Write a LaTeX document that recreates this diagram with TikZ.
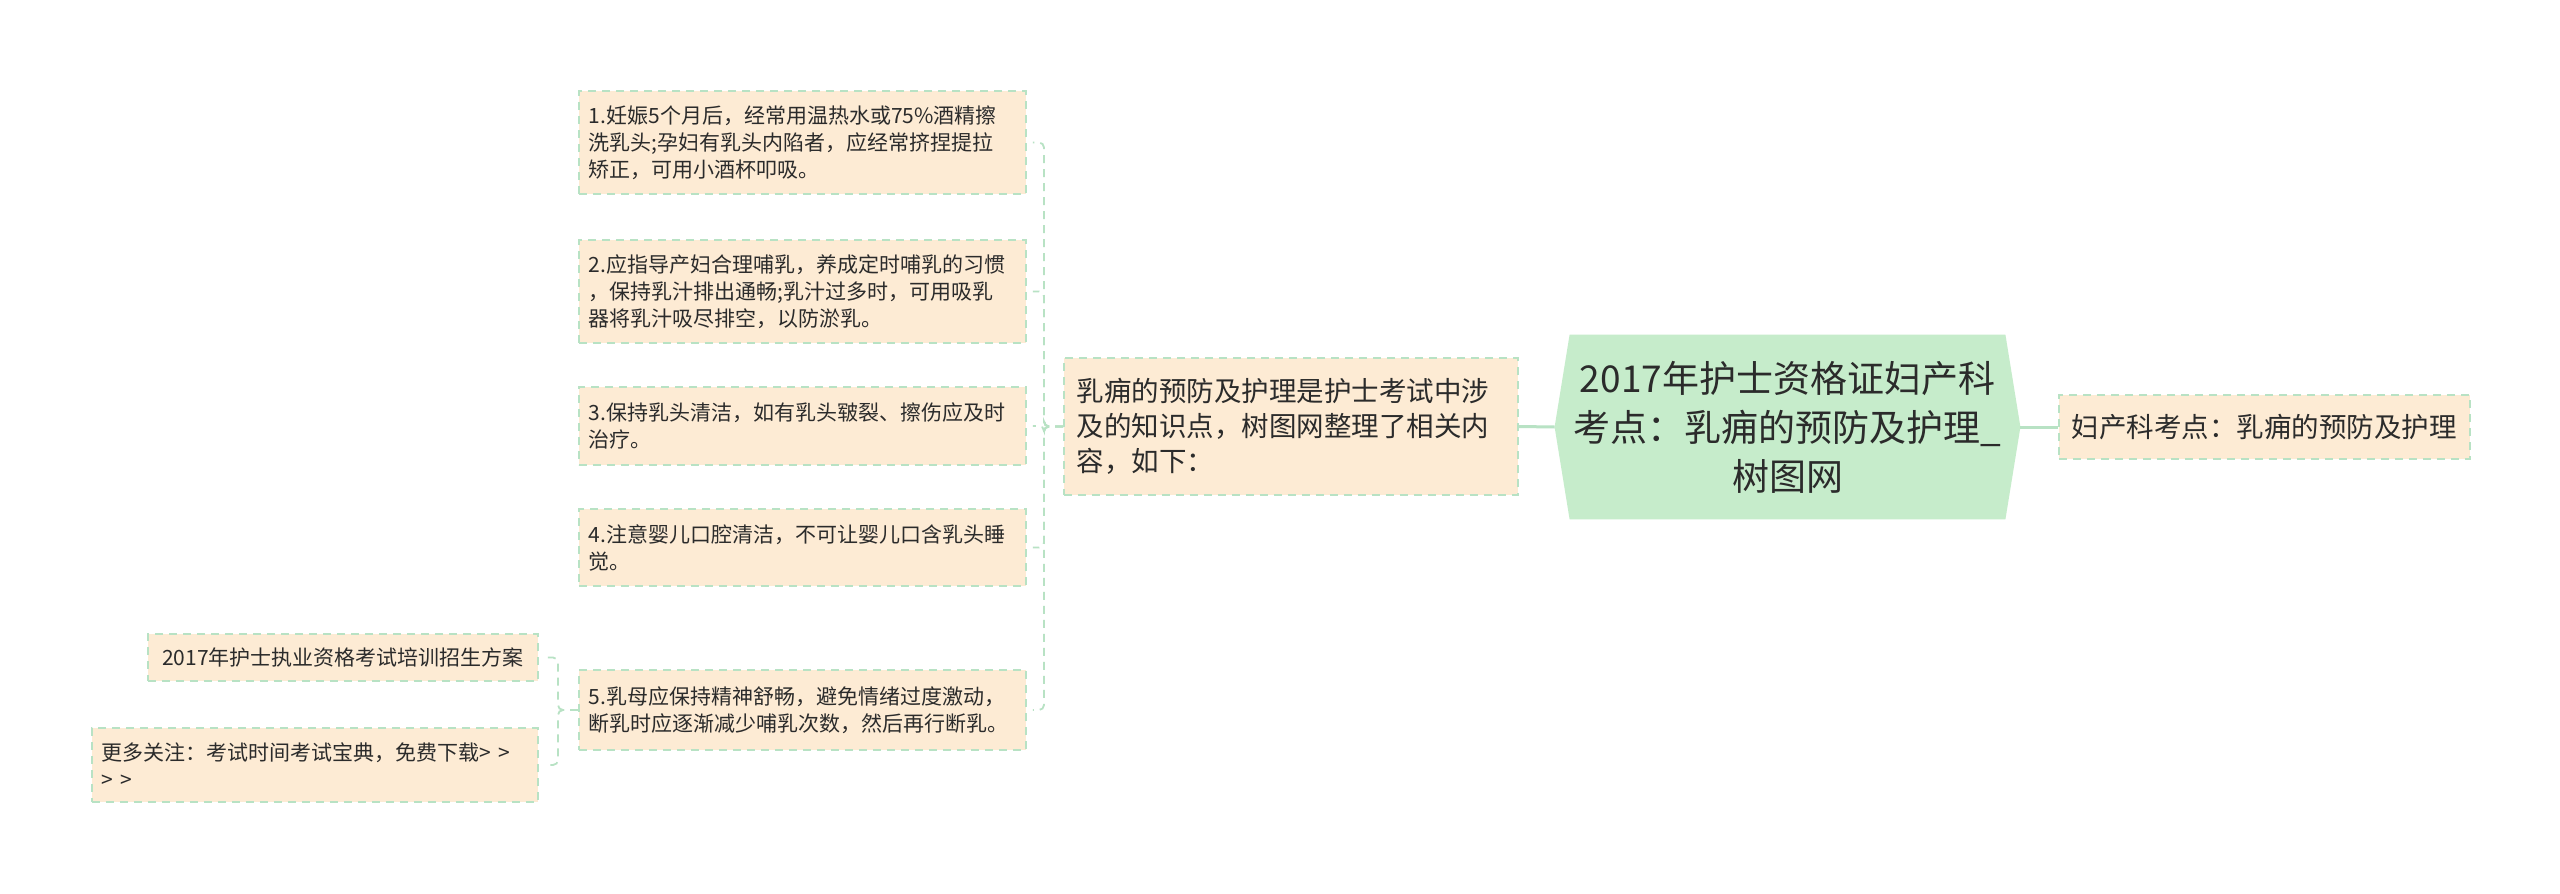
\documentclass[tikz,border=0pt]{standalone}
\usepackage{fontspec}
\usepackage{tikz}
\usetikzlibrary{backgrounds}
\newfontfamily\cjk{Noto Sans CJK SC}
\newcommand{\xf}{578}
\newcommand{\lf}{213.5pt}
\definecolor{vertlien}{RGB}{184,226,196}
\definecolor{pechefond}{RGB}{253,235,212}
\definecolor{vertcentre}{RGB}{198,236,203}
\definecolor{textegris}{RGB}{43,43,43}
\tikzstyle{bordure}=[draw=vertlien,line width=0.9pt,dash pattern=on 4pt off 3pt]
\tikzstyle{feuille}=[bordure,fill=pechefond,anchor=west,align=left,inner xsep=5pt,inner ysep=0pt,text=textegris,font=\cjk\fontsize{10.5pt}{13.5pt}\selectfont]
\tikzstyle{branche}=[feuille,inner xsep=6.5pt,font=\cjk\fontsize{13.75pt}{17.5pt}\selectfont]
\tikzstyle{centre}=[align=center,inner sep=0,minimum width=217.5pt,minimum height=92pt,text=textegris,font=\cjk\fontsize{18.5pt}{24.5pt}\selectfont]
\tikzstyle{lien}=[bordure,rounded corners=2.5pt,shorten >=3pt]
\tikzstyle{tronc}=[draw=vertlien,line width=1.5pt]

\begin{document}
\begin{tikzpicture}[x=0.5pt,y=-0.5pt]
\path[use as bounding box] (0,0) rectangle (2560,894);

%centre
\node[centre] (ctr) at (1787.5,427) {2017年护士资格证妇产科\\考点：乳痈的预防及护理\_\\树图网};
\coordinate (ctrW) at ([xshift=-7.5pt]ctr.west);
\coordinate (ctrE) at ([xshift=7.5pt]ctr.east);
\begin{pgfonlayer}{background}
\fill[white] (0,0) rectangle (2560,894);
\fill[vertcentre] (ctr.north west) -- (ctr.north east) -- (ctrE) -- (ctr.south east) -- (ctr.south west) -- (ctrW) -- cycle;
\end{pgfonlayer}

\node[branche,text width=214pt,minimum height=68.5pt] (mid) at (1063,426.5) {乳痈的预防及护理是护士考试中涉\\及的知识点，树图网整理了相关内\\容，如下：};
\node[branche,align=center,inner xsep=5.5pt,text width=194.5pt,minimum height=32pt] (droite) at (2058,427) {妇产科考点：乳痈的预防及护理};

%feuilles
\node[feuille,text width=\lf,minimum height=51.5pt] (f1) at (\xf,142.5) {1.妊娠5个月后，经常用温热水或75\%酒精擦\\洗乳头;孕妇有乳头内陷者，应经常挤捏提拉\\矫正，可用小酒杯叩吸。};
\node[feuille,text width=\lf,minimum height=51.5pt] (f2) at (\xf,291.5) {2.应指导产妇合理哺乳，养成定时哺乳的习惯\\，保持乳汁排出通畅;乳汁过多时，可用吸乳\\器将乳汁吸尽排空，以防淤乳。};
\node[feuille,text width=\lf,minimum height=39pt] (f3) at (\xf,426) {3.保持乳头清洁，如有乳头皲裂、擦伤应及时\\治疗。};
\node[feuille,text width=\lf,minimum height=38.5pt] (f4) at (\xf,547.5) {4.注意婴儿口腔清洁，不可让婴儿口含乳头睡\\觉。};
\node[feuille,text width=\lf,minimum height=40pt] (f5) at (\xf,710) {5.乳母应保持精神舒畅，避免情绪过度激动，\\断乳时应逐渐减少哺乳次数，然后再行断乳。};

\node[feuille,align=center,text width=185pt,minimum height=23.5pt] (g1) at (147,657.5) {2017年护士执业资格考试培训招生方案};
\node[feuille,text width=213pt,minimum height=37pt] (g2) at (91,765) {更多关注：考试时间考试宝典，免费下载> >\\> >};

%liens
\draw[tronc] (ctrW) -- (mid.east);
\draw[tronc] (ctrE) -- (droite.west);

\foreach \I in {1,...,5}
\draw[lien] (mid.west) -- ++(-9.5pt,0) |- (f\I.east);

\foreach \I in {1,2}
\draw[lien] (f5.west) -- ++(-10pt,0) |- (g\I.east);
\end{tikzpicture}
\end{document}
